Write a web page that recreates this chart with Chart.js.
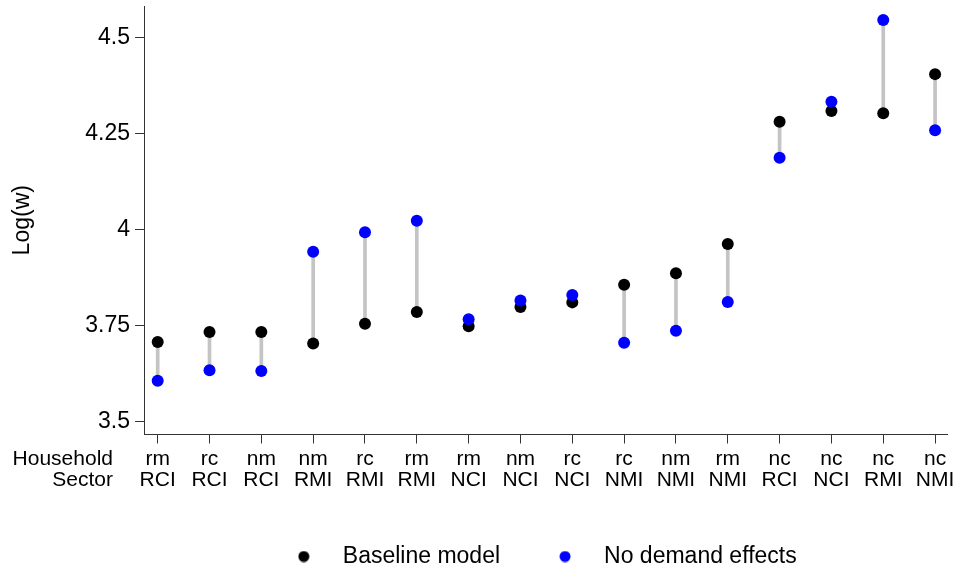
<!DOCTYPE html>
<html>
<head>
<meta charset="utf-8">
<script src="https://cdn.jsdelivr.net/npm/chart.js@4.4.1/dist/chart.umd.min.js"></script>
<style>
  html, body { margin: 0; padding: 0; background: #fff; }
</style>
</head>
<body>
<canvas id="wageChart" width="955" height="572"></canvas>
<script>
// categories (two-row x labels)
const household = ['rm', 'rc', 'nm', 'nm', 'rc', 'rm', 'rm', 'nm', 'rc', 'rc', 'nm', 'rm', 'nc', 'nc', 'nc', 'nc'];
const sector = ['RCI', 'RCI', 'RCI', 'RMI', 'RMI', 'RMI', 'NCI', 'NCI', 'NCI', 'NMI', 'NMI', 'NMI', 'RCI', 'NCI', 'RMI', 'NMI'];

// series, log wage
const baseline = [3.707, 3.733, 3.733, 3.703, 3.754, 3.785, 3.748, 3.798, 3.810, 3.856, 3.886, 3.962, 4.281, 4.309, 4.303, 4.405];
const noDemand = [3.606, 3.633, 3.631, 3.942, 3.993, 4.023, 3.766, 3.815, 3.829, 3.705, 3.736, 3.811, 4.187, 4.333, 4.546, 4.259];

const yTicks = [3.5, 3.75, 4, 4.25, 4.5];

Chart.defaults.font.family = '"Liberation Sans", Arial, Helvetica, sans-serif';
Chart.defaults.color = '#000';

// small round marker images for the legend
function dot(color) {
  const c = document.createElement('canvas');
  c.width = 12; c.height = 12;
  const g = c.getContext('2d');
  g.fillStyle = color;
  g.beginPath();
  g.arc(6, 6, 5.5, 0, Math.PI * 2);
  g.fill();
  return c;
}
const legendDots = [dot('#000000'), dot('#0000ff')];

// "Household" / "Sector" row captions left of the x labels
const rowHeads = {
  id: 'rowHeads',
  afterDraw(chart) {
    const { ctx, scales: { x } } = chart;
    const y0 = x.top + 9 + 5 + 10.5;
    ctx.save();
    ctx.font = '21px "Liberation Sans", Arial, sans-serif';
    ctx.fillStyle = '#000';
    ctx.textAlign = 'right';
    ctx.textBaseline = 'middle';
    ctx.fillText('Household', 113, y0);
    ctx.fillText('Sector', 113, y0 + 21);
    ctx.restore();
  }
};

// pull the legend row a bit left, like the original
const legendNudge = {
  id: 'legendNudge',
  afterLayout(chart) {
    chart.legend.left -= 9;
    chart.legend.right -= 9;
  }
};

const axisLine = { color: '#333', width: 1 };
const tickMarks = { drawOnChartArea: false, offset: false, color: '#333', tickLength: 9 };

function noEdgePad(s) {
  s.paddingTop = 0; s.paddingBottom = 0;
  s.paddingLeft = 0; s.paddingRight = 0;
}

new Chart(document.getElementById('wageChart'), {
  type: 'scatter',
  data: {
    datasets: [
      {
        type: 'bar',
        label: 'gap',
        data: baseline.map((b, i) => ({ x: i, y: [b, noDemand[i]] })),
        backgroundColor: '#c4c4c4',
        barThickness: 3,
        order: 3
      },
      {
        label: 'Baseline model',
        data: baseline.map((v, i) => ({ x: i, y: v })),
        backgroundColor: '#000000',
        borderWidth: 0,
        pointRadius: 6,
        order: 2
      },
      {
        label: 'No demand effects',
        data: noDemand.map((v, i) => ({ x: i, y: v })),
        backgroundColor: '#0000ff',
        borderWidth: 0,
        pointRadius: 6,
        order: 1
      }
    ]
  },
  options: {
    responsive: false,
    animation: false,
    layout: { padding: { top: 6, left: 0, right: 8, bottom: -6 } },
    plugins: {
      tooltip: { enabled: false },
      legend: {
        position: 'bottom',
        fullSize: false,
        labels: {
          usePointStyle: true,
          pointStyleWidth: 55,
          padding: 37.5,
          color: '#000',
          font: { size: 23 },
          generateLabels: chart => Chart.defaults.plugins.legend.labels.generateLabels(chart)
            .filter(it => it.datasetIndex > 0)
            .sort((a, b) => a.datasetIndex - b.datasetIndex)
            .map(it => Object.assign(it, { pointStyle: legendDots[it.datasetIndex - 1] }))
        }
      }
    },
    scales: {
      x: {
        type: 'linear',
        offset: false,
        min: -0.264,
        max: 15.23,
        afterBuildTicks: s => { s.ticks = household.map((_, i) => ({ value: i })); },
        afterFit: s => { s.height = 73; noEdgePad(s); },
        grid: tickMarks,
        border: axisLine,
        ticks: {
          autoSkip: false,
          maxRotation: 0,
          padding: 5,
          color: '#000',
          font: { size: 21, lineHeight: 1 },
          callback: v => [household[v], sector[v]]
        }
      },
      y: {
        min: 3.4656,
        max: 4.5826,
        afterBuildTicks: s => { s.ticks = yTicks.map(v => ({ value: v })); },
        afterFit: s => { s.width = 144; noEdgePad(s); },
        grid: tickMarks,
        border: axisLine,
        ticks: { padding: 5, color: '#000', font: { size: 23 }, callback: v => String(v) },
        title: {
          display: true,
          text: 'Log(w)',
          color: '#000',
          font: { size: 23 },
          padding: { top: 9, bottom: 0 }
        }
      }
    }
  },
  plugins: [rowHeads, legendNudge]
});
</script>
</body>
</html>
